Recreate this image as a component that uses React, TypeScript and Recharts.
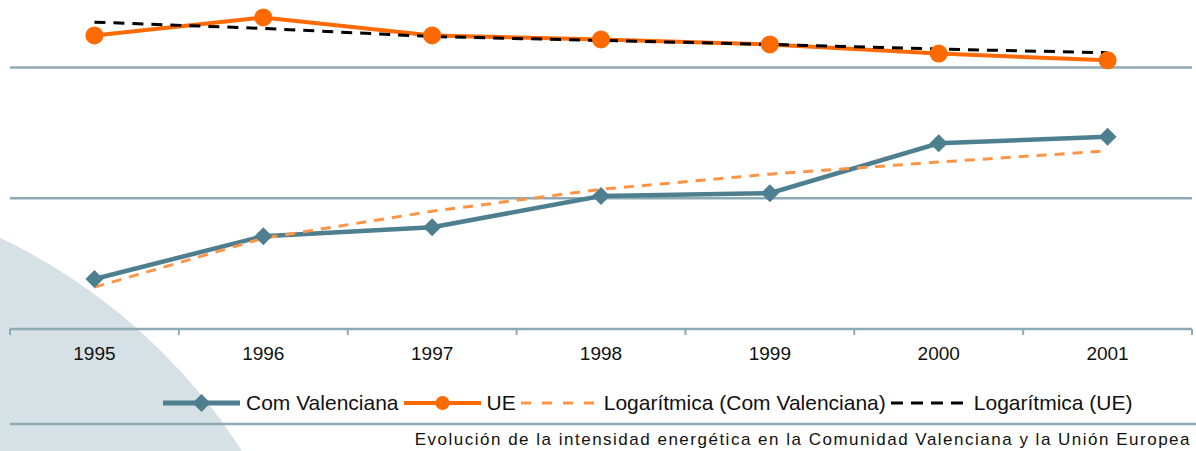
import React from "react"
import { LineChart, Line, XAxis, YAxis, ReferenceLine, Legend } from "recharts"

const years = ["1995", "1996", "1997", "1998", "1999", "2000", "2001"]
const comValenciana = [119.1, 135.5, 138.9, 150.8, 151.9, 171.0, 173.5]
const ue = [212.2, 219.1, 212.2, 210.7, 208.8, 205.3, 202.7]
const logComValenciana = [116.0, 134.7, 145.0, 153.4, 159.2, 163.8, 168.1]
const logUe = [217.3, 214.9, 211.8, 210.3, 208.8, 207.0, 205.6]
const gridValues = [150, 200]

const data = years.map((year, i) => ({
  year,
  cv: comValenciana[i],
  ue: ue[i],
  logCv: logComValenciana[i],
  logUe: logUe[i],
}))

const W = 1196
const H = 451
const MARGIN = { top: 2, right: 4, left: 10, bottom: 33 }
const PLOT_W = W - MARGIN.left - MARGIN.right
const BAND = PLOT_W / years.length

const TEAL = "#4e7f8f"
const ORANGE = "#ff6a00"
const LIGHT_ORANGE = "#ff9447"
const GRID = "#8eaab4"
const FONT = "'Liberation Sans', Arial, sans-serif"

const Diamond = (props: any) => {
  const { cx, cy } = props
  if (cx == null || cy == null) return null
  const s = 9
  return <path d={`M${cx},${cy - s}L${cx + s},${cy}L${cx},${cy + s}L${cx - s},${cy}Z`} fill={TEAL} />
}

const Dot = (props: any) => {
  const { cx, cy } = props
  if (cx == null || cy == null) return null
  return <circle cx={cx} cy={cy} r={9} fill={ORANGE} />
}

const XTick = (props: any) => {
  const { x, y, payload, index } = props
  return (
    <g>
      <line x1={x - BAND / 2} x2={x - BAND / 2} y1={y} y2={y + 6} stroke={GRID} strokeWidth={2} />
      {index === years.length - 1 && (
        <line x1={x + BAND / 2} x2={x + BAND / 2} y1={y} y2={y + 6} stroke={GRID} strokeWidth={2} />
      )}
      <text x={x} y={y + 31} textAnchor="middle" fontSize={19} fontFamily={FONT} fill="#111">
        {payload.value}
      </text>
    </g>
  )
}

const legendItems = [
  { label: "Com Valenciana", color: TEAL, dash: undefined, width: 5, marker: "diamond" },
  { label: "UE", color: ORANGE, dash: undefined, width: 4, marker: "circle" },
  { label: "Logarítmica (Com Valenciana)", color: LIGHT_ORANGE, dash: "10 11", width: 3, marker: null },
  { label: "Logarítmica (UE)", color: "#000", dash: "12 8", width: 3, marker: null },
]

const LegendContent = () => (
  <div style={{ display: "flex", alignItems: "center", height: 30, paddingLeft: 153, fontFamily: FONT, fontSize: 21, color: "#111" }}>
    {legendItems.map((it) => (
      <div key={it.label} style={{ display: "flex", alignItems: "center", marginRight: 5 }}>
        <svg width={77} height={24} style={{ marginRight: 6 }}>
          <line x1={0} x2={77} y1={12} y2={12} stroke={it.color} strokeWidth={it.width} strokeDasharray={it.dash} />
          {it.marker === "diamond" && <path d="M38.5,3L47.5,12L38.5,21L29.5,12Z" fill={it.color} />}
          {it.marker === "circle" && <circle cx={38.5} cy={12} r={7} fill={it.color} />}
        </svg>
        <span>{it.label}</span>
      </div>
    ))}
  </div>
)

export default function App() {
  return (
    <div style={{ position: "absolute", left: 0, top: 0, width: W, height: H, overflow: "hidden", background: "#fff" }}>
      <svg width={W} height={H} style={{ position: "absolute", left: 0, top: 0 }}>
        <circle cx={-252} cy={768} r={587} fill="#d6e1e5" />
        <line x1={10} x2={W} y1={424} y2={424} stroke={GRID} strokeWidth={2.5} />
      </svg>
      <div style={{ position: "absolute", left: 0, top: 0 }}>
        <LineChart width={W} height={H} data={data} margin={MARGIN}>
          <XAxis
            dataKey="year"
            axisLine={{ stroke: GRID, strokeWidth: 2.5 }}
            tickLine={false}
            tickSize={0}
            tickMargin={0}
            height={59}
            interval={0}
            padding={{ left: BAND / 2, right: BAND / 2 }}
            tick={<XTick />}
          />
          <YAxis hide domain={[100, 225]} />
          {gridValues.map((v) => (
            <ReferenceLine key={v} y={v} stroke={GRID} strokeWidth={2.5} />
          ))}
          <Line dataKey="cv" stroke={TEAL} strokeWidth={4.5} dot={<Diamond />} activeDot={false} isAnimationActive={false} />
          <Line dataKey="ue" stroke={ORANGE} strokeWidth={4} dot={<Dot />} activeDot={false} isAnimationActive={false} />
          <Line dataKey="logCv" stroke={LIGHT_ORANGE} strokeWidth={3} strokeDasharray="10 8" dot={false} activeDot={false} isAnimationActive={false} />
          <Line dataKey="logUe" stroke="#000" strokeWidth={3} strokeDasharray="11 8" dot={false} activeDot={false} isAnimationActive={false} />
          <Legend verticalAlign="bottom" content={<LegendContent />} />
        </LineChart>
      </div>
      <div
        style={{
          position: "absolute",
          right: 5,
          top: 430,
          fontFamily: FONT,
          fontSize: 17,
          letterSpacing: 1.5,
          color: "#111",
          whiteSpace: "nowrap",
        }}
      >
        Evolución de la intensidad energética en la Comunidad Valenciana y la Unión Europea
      </div>
    </div>
  )
}
